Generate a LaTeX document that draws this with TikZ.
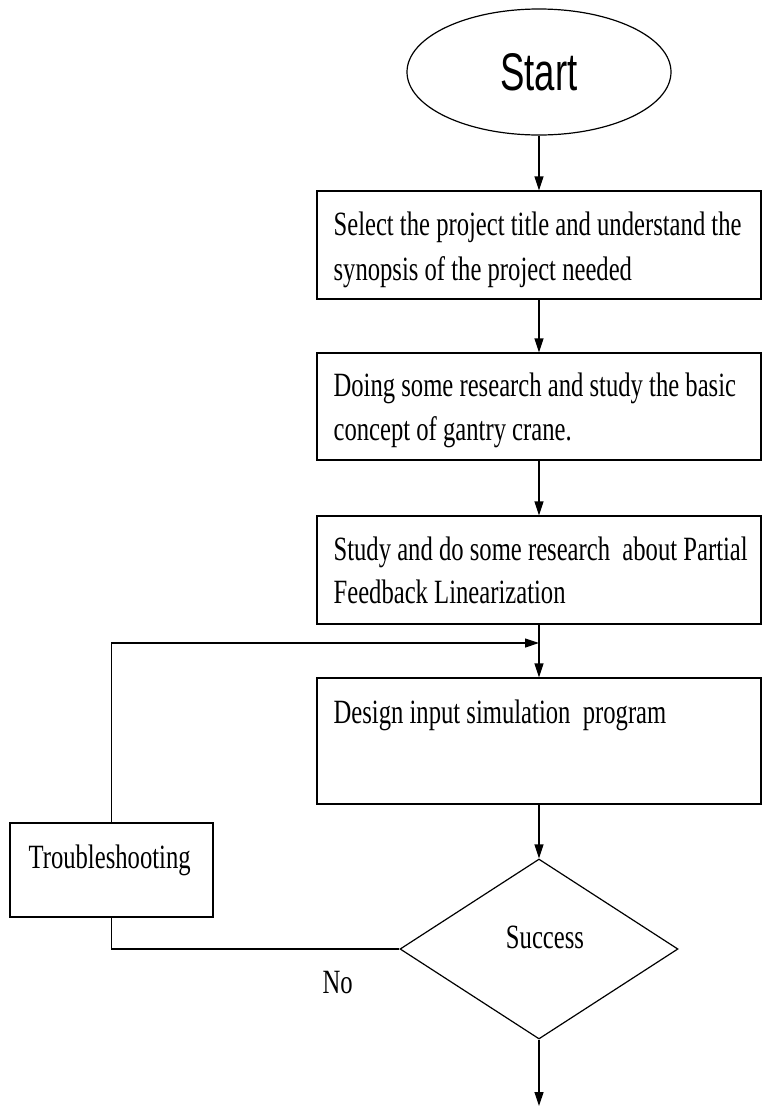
\documentclass[tikz,border=0pt]{standalone}
\usepackage{fontspec}
\newfontfamily\boxfont[FakeStretch=0.725]{Liberation Serif}
\newfontfamily\startfont[FakeStretch=0.69]{Liberation Sans}
\usetikzlibrary{shapes.geometric,arrows.meta}
\begin{document}
\begin{tikzpicture}[x=1pt,y=-1pt,
  line width=1.2pt,
  stepbox/.style={draw, rectangle, inner sep=0pt, minimum width=444pt},
  txt/.style={anchor=base west, inner sep=0pt, font=\boxfont\fontsize{34}{40}\selectfont},
  ctxt/.style={anchor=base, inner sep=0pt, font=\boxfont\fontsize{34}{40}\selectfont},
  arr/.style={-{Triangle[length=14pt,width=9pt]}}
]
\useasboundingbox (0,0) rectangle (764,1109);

% shapes
\node[draw, ellipse, inner sep=0pt, minimum width=264pt, minimum height=126pt,
      font=\startfont\fontsize{53}{60}\selectfont] (st) at (539,72) {Start};
\node[stepbox, minimum height=108pt] (b1) at (539,245) {};
\node[stepbox, minimum height=107pt] (b2) at (539,406.5) {};
\node[stepbox, minimum height=108pt] (b3) at (539,570) {};
\node[stepbox, minimum height=126pt] (b4) at (539,741) {};
\node[draw, rectangle, inner sep=0pt, minimum width=203pt, minimum height=94pt] (tr) at (111.5,870) {};
\node[draw, diamond, inner sep=0pt, minimum width=278pt, minimum height=180pt] (dec) at (539,949) {};

% texts
\node[txt] (t1a) at (333,235) {Select the project title and understand the};
\node[txt] (t1b) at (333,280) {synopsis of the project needed};
\node[txt] (t2a) at (333,396) {Doing some research and study the basic};
\node[txt] (t2b) at (333,440) {concept of gantry crane.};
\node[txt] (t3a) at (333,560) {Study and do some research\ \ about Partial};
\node[txt] (t3b) at (333,603) {Feedback Linearization};
\node[txt] (t4a) at (333,723) {Design input simulation\ \ program};
\node[txt] (ttr) at (28,868) {Troubleshooting};
\node[ctxt] (tsu) at (545,948) {Success};
\node[txt] (tno) at (322,993) {No};

% connectors
\coordinate (fb) at (539,643);
\coordinate (endp) at (539,1106);
\draw[arr] (st.south) -- (b1.north);
\draw[arr] (b1.south) -- (b2.north);
\draw[arr] (b2.south) -- (b3.north);
\draw[arr] (b3.south) -- (b4.north);
\draw[arr] (b4.south) -- (dec.north);
\draw[arr] (dec.south) -- (endp);
\draw (dec.west) -- (dec.west -| tr.south) -- (tr.south);
\draw[arr] (tr.north) |- (fb);
\end{tikzpicture}
\end{document}
